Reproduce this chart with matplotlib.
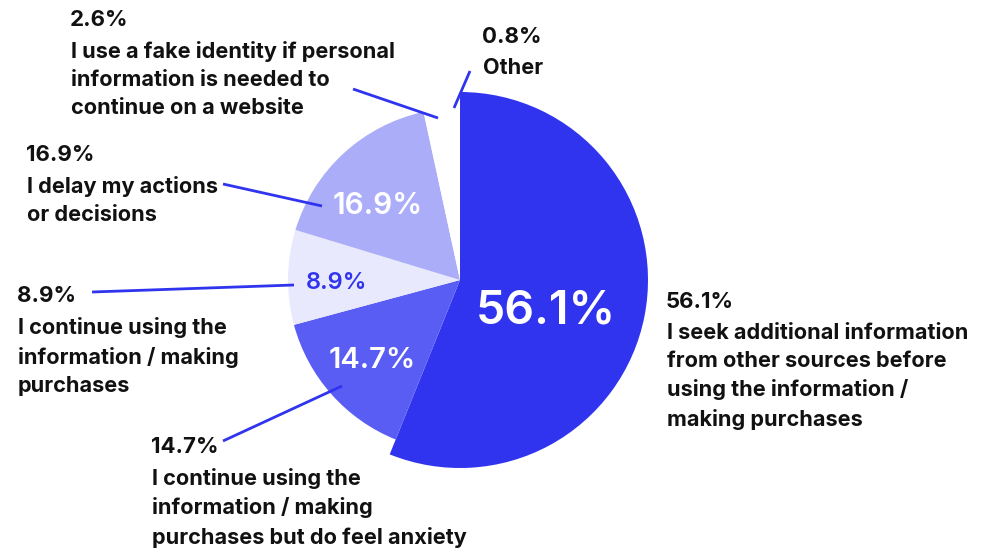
import matplotlib
matplotlib.use("Agg")
import matplotlib.pyplot as plt

W, H = 989, 550

# answer shares, clockwise from 12 o'clock
values = [56.1, 14.7, 8.9, 16.9, 2.6, 0.8]
answers = [
    "I seek additional information\nfrom other sources before\nusing the information /\nmaking purchases",
    "I continue using the\ninformation / making\npurchases but do feel anxiety",
    "I continue using the\ninformation / making\npurchases",
    "I delay my actions\nor decisions",
    "I use a fake identity if personal\ninformation is needed to\ncontinue on a website",
    "Other",
]
colors = ["#3134ef", "#5a5df3", "#e9e9fd", "#abadf8", "white", "white"]
inner_colors = ["white", "white", "#3134ef", "white", None, None]

# layout (image pixels, y measured from top)
cx, cy = 460, 280
r_small, r_big = 172, 188
inner_pos = [(546, 311), (372, 360), (337, 283), (378, 206)]
inner_size = [33.5, 21, 17, 21.5]
label_pos = [(667, 302), (152, 447), (18, 296), (27, 155), (71, 20), (483, 37)]
leaders = [None, ((223, 441), (342, 386)), ((92, 292), (294, 285)),
           ((223, 184), (322, 206)), ((353, 89), (438, 118)), ((454, 108), (470, 71))]
blue = "#3134ef"
ink = "#111111"

plt.rcParams['font.family'] = ['Inter', 'DejaVu Sans']

fig = plt.figure(figsize=(W / 100, H / 100), dpi=100)
ax = fig.add_axes([0, 0, 1, 1])

def Y(y):
    return H - y

wedges, _ = ax.pie(values, colors=colors, startangle=90, counterclock=False,
                   radius=r_small, center=(cx, Y(cy)),
                   wedgeprops=dict(linewidth=0))
wedges[0].set_radius(r_big)

for i, (x, y) in enumerate(inner_pos):
    ax.text(x, Y(y), f"{values[i]}%", color=inner_colors[i], fontsize=inner_size[i],
            fontweight="semibold", ha="center", va="center")

for i, (x, y) in enumerate(label_pos):
    ax.text(x - 1, Y(y), f"{values[i]}%", fontsize=16, fontweight="bold",
            color=ink, ha="left", va="center")
    ax.text(x, Y(y + 21), answers[i], fontsize=15.6, fontweight="bold",
            color=ink, ha="left", va="top", linespacing=1.5)

for seg in leaders:
    if seg is None:
        continue
    (x0, y0), (x1, y1) = seg
    ax.plot([x0, x1], [Y(y0), Y(y1)], color=blue, lw=2, solid_capstyle="butt")

ax.set_xlim(0, W)
ax.set_ylim(0, H)
ax.set_aspect("equal")
ax.axis("off")

fig.savefig("out.png", dpi=100, facecolor="white")
